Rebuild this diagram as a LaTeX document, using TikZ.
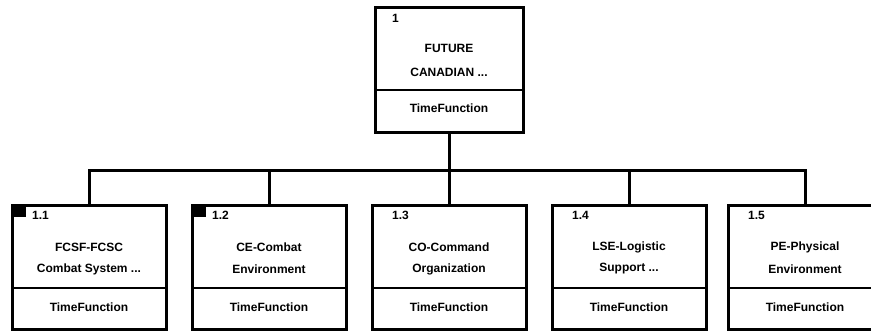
\documentclass[tikz,border=0pt]{standalone}
\usepackage{fontspec}
\setmainfont{Liberation Sans}
\usetikzlibrary{calc}
\newcommand\trailmark{...}
\begin{document}
\begin{tikzpicture}[x=1pt,y=-1pt,
  frame/.style={draw, line width=3pt, inner sep=0pt, outer sep=0pt, anchor=north west,
                minimum height=124pt},
  childframe/.style={frame, minimum width=154pt},
  rootframe/.style={frame, minimum width=148pt, minimum height=125pt},
  divider/.style={line width=2.6pt},
  link/.style={line width=3pt},
  txt/.style={font=\fontsize{12}{14}\selectfont\bfseries, inner sep=0pt},
  num/.style={txt, anchor=west},
  marker/.style={fill=black}
]
\useasboundingbox (0,0) rectangle (871,332);

% root activity
\node[rootframe] (r) at (375,7) {};
\draw[divider] ($(r.north west)+(0,83)$) -- ($(r.north east)+(0,83)$);
\node[num] at ($(r.north west)+(17,11)$) {1};
\node[txt] at ($(r.north)+(0,41)$) {FUTURE};
\node[txt] at ($(r.north)+(0,65)$) {CANADIAN \trailmark};
\node[txt] at ($(r.north)+(0,101)$) {TimeFunction};

% child activities
\foreach \name/\x/\id/\la/\lb/\mk in {
    c1/12/1.1/FCSF-FCSC/{Combat System \trailmark}/1,
    c2/192/1.2/CE-Combat/Environment/1,
    c3/372/1.3/CO-Command/Organization/0,
    c4/552/1.4/LSE-Logistic/{Support \trailmark}/0,
    c5/728/1.5/PE-Physical/Environment/0}{
  \node[childframe] (\name) at (\x,205) {};
  \draw[divider] ($(\name.north west)+(0,83)$) -- ($(\name.north east)+(0,83)$);
  \ifnum\mk=1
    \fill[marker] (\name.north west) rectangle ($(\name.north west)+(14,12)$);
  \fi
  \node[num] at ($(\name.north west)+(20,10)$) {\id};
  \node[txt] at ($(\name.north)+(0,42)$) {\la};
  \node[txt] at ($(\name.north)+(0,64)$) {\lb};
  \node[txt] at ($(\name.north)+(0,102)$) {TimeFunction};
}

% tree connectors
\coordinate (bus) at ($(r.south)+(0,38)$);
\draw[link] (r.south) -- (bus);
\draw[link] (c1.north) |- (bus);
\draw[link] (c5.north) |- (bus);
\foreach \name in {c2,c3,c4}
  \draw[link] (\name.north) -- (\name.north |- bus);
\end{tikzpicture}
\end{document}
